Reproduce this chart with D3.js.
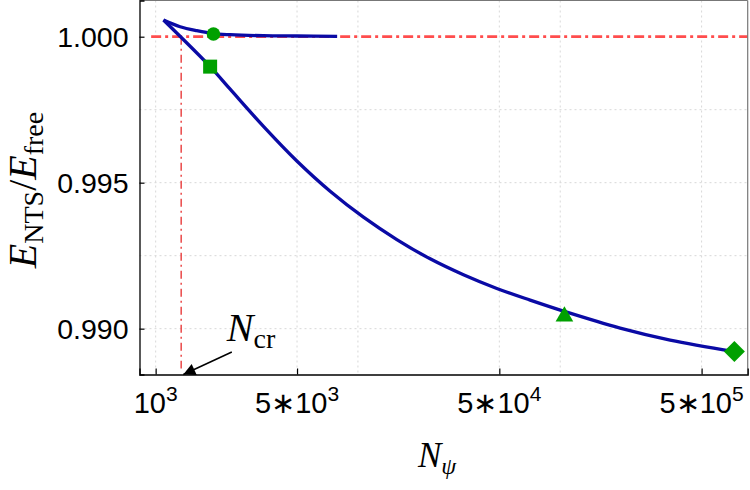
<!DOCTYPE html>
<html>
<head>
<meta charset="utf-8">
<script src="https://cdn.jsdelivr.net/npm/d3@7"></script>
<style>
  body { margin: 0; background: #fff; }
  svg { display: block; }
</style>
</head>
<body>
<div id="chart"></div>
<script>
// upper branch (from the cusp, approaching 1 from above)
const upperN = [1093, 1321, 1598, 1931, 2335, 3411, 4989, 7893];
const upperE = [1.000571, 1.000342, 1.000205, 1.000105, 1.000068, 1.000034, 1.000024, 1.000014];

// lower branch
const lowerN = [1093, 1859, 2335, 3411, 4989, 7288, 10647, 15571, 22750, 33230, 48600, 71010, 104900, 197800, 349400, 726200];
const lowerE = [1.000571, 0.998975, 0.998202, 0.996928, 0.995742, 0.994706, 0.993818, 0.993052, 0.992392, 0.991846, 0.991377, 0.990978, 0.990591, 0.990021, 0.989610, 0.989214];

// green markers
const markerN = [1931, 1859, 104900, 726200];
const markerE = [1.000092, 0.998975, 0.990420, 0.989214];
const markerShape = ["circle", "square", "triangle", "diamond"];

// axes
const xTicks = [1e3, 5e3, 5e4, 5e5];
const xTickMant = ["", "5\u221710", "5\u221710", "5\u221710"];
const xTickExp = ["3", "3", "4", "5"];
const yTicks = [0.990, 0.995, 1.000];
const xGrid = [1e3, 5e3, 1e4, 5e4, 1e5, 5e5];
const yGrid = [0.990, 0.9925, 0.995, 0.9975];

// reference lines + annotation
const refE = 1.0;
const refStartN = 950;
const Ncr = 1337;
const arrowFrom = [2380, 0.98920];
const arrowTo = [1370, 0.98843];
const labelAt = [2249, 0.989576];

const W = 750, H = 490;
const plotL = 139.5, plotR = 747.7, plotT = 0.5, plotB = 374.5;

const svg = d3.select("#chart").append("svg")
    .attr("width", W)
    .attr("height", H);

const x = d3.scaleLog()
    .domain([832, 845000])
    .range([plotL, plotR]);

const y = d3.scaleLinear()
    .domain([0.98843, 1.00124])
    .range([plotB, plotT]);

// grid
svg.append("g").selectAll("line")
  .data(xGrid)
  .join("line")
    .attr("x1", d => x(d)).attr("x2", d => x(d))
    .attr("y1", plotT).attr("y2", plotB)
    .attr("stroke", "#d8d8d8")
    .attr("stroke-width", 1)
    .attr("stroke-dasharray", "2,3");

svg.append("g").selectAll("line")
  .data(yGrid)
  .join("line")
    .attr("x1", plotL).attr("x2", plotR)
    .attr("y1", d => y(d)).attr("y2", d => y(d))
    .attr("stroke", "#d8d8d8")
    .attr("stroke-width", 1)
    .attr("stroke-dasharray", "2,3");

// red reference lines
svg.append("line")
    .attr("x1", x(refStartN)).attr("x2", plotR)
    .attr("y1", y(refE)).attr("y2", y(refE))
    .attr("stroke", "#ff4d4d")
    .attr("stroke-width", 2.8)
    .attr("stroke-dasharray", "10,4,3,4");

svg.append("line")
    .attr("x1", x(Ncr)).attr("x2", x(Ncr))
    .attr("y1", y(refE)).attr("y2", plotB - 6)
    .attr("stroke", "#e83c3c")
    .attr("stroke-width", 1.4)
    .attr("stroke-dasharray", "8,4,2,4");

// curves
const line = d3.line()
    .x(d => x(d[0]))
    .y(d => y(d[1]))
    .curve(d3.curveCatmullRom.alpha(0.5));

svg.append("path")
    .datum(upperN.map((n, i) => [n, upperE[i]]))
    .attr("d", line)
    .attr("fill", "none")
    .attr("stroke", "#0a0aa5")
    .attr("stroke-width", 3.3)
    .attr("stroke-linejoin", "round");

svg.append("path")
    .datum(lowerN.map((n, i) => [n, lowerE[i]]))
    .attr("d", line)
    .attr("fill", "none")
    .attr("stroke", "#0a0aa5")
    .attr("stroke-width", 3.3)
    .attr("stroke-linejoin", "round");

// markers
const symbolFor = {
  circle: d3.symbol(d3.symbolCircle, 145),
  square: d3.symbol(d3.symbolSquare, 196),
  triangle: d3.symbol(d3.symbolTriangle, 135),
  diamond: d3.symbol(d3.symbolSquare, 220)
};
svg.append("g").selectAll("path")
  .data(markerN.map((n, i) => ({n: n, e: markerE[i], s: markerShape[i]})))
  .join("path")
    .attr("d", d => symbolFor[d.s]())
    .attr("transform", d => `translate(${x(d.n)},${y(d.e)})` + (d.s === "diamond" ? " rotate(45)" : ""))
    .attr("fill", "#00a000");

// frame
svg.append("line").attr("x1", plotL).attr("x2", plotR).attr("y1", plotT).attr("y2", plotT)
    .attr("stroke", "#777").attr("stroke-width", 1.2);
svg.append("line").attr("x1", plotR).attr("x2", plotR).attr("y1", plotT).attr("y2", plotB)
    .attr("stroke", "#777").attr("stroke-width", 1.2);

// x axis (ticks inward)
const xAxis = svg.append("g")
    .attr("transform", `translate(0,${plotB})`)
    .call(d3.axisBottom(x).tickValues(xTicks).tickSize(-6).tickFormat(""));
xAxis.select(".domain").attr("stroke", "#000").attr("stroke-width", 1.3);
xAxis.selectAll(".tick line").attr("stroke", "#000").attr("stroke-width", 1.2);

const yAxis = svg.append("g")
    .attr("transform", `translate(${plotL},0)`)
    .call(d3.axisLeft(y).tickValues(yTicks).tickSize(-5).tickFormat(""));
yAxis.select(".domain").attr("stroke", "#000").attr("stroke-width", 1.3);
yAxis.selectAll(".tick line").attr("stroke", "#000").attr("stroke-width", 1.2);

// tick labels
const tickFont = "'Liberation Sans', Arial, sans-serif";
const xl = svg.append("g").selectAll("text")
  .data(xTicks)
  .join("text")
    .attr("x", d => x(d))
    .attr("y", plotB + 38)
    .attr("text-anchor", "middle")
    .attr("font-family", tickFont)
    .attr("font-size", 29)
    .attr("fill", "#000");
xl.append("tspan").text((d, i) => xTickMant[i] === "" ? "10" : xTickMant[i]);
xl.append("tspan")
    .attr("dy", -12)
    .attr("font-size", 21)
    .text((d, i) => xTickExp[i]);

svg.append("g").selectAll("text")
  .data(yTicks)
  .join("text")
    .attr("x", plotL - 11)
    .attr("y", d => y(d) + 10)
    .attr("text-anchor", "end")
    .attr("font-family", tickFont)
    .attr("font-size", 28.5)
    .attr("fill", "#000")
    .text(d => d3.format(".3f")(d));

// axis titles
const serif = "'Liberation Serif', 'Times New Roman', serif";
const xt = svg.append("text")
    .attr("x", 418)
    .attr("y", 467)
    .attr("font-family", serif)
    .attr("font-size", 35)
    .attr("fill", "#000");
xt.append("tspan").attr("font-style", "italic").text("N");
xt.append("tspan").attr("font-style", "italic").attr("font-size", 24).attr("dy", 7).text("\u03c8");

const yt = svg.append("text")
    .attr("transform", "translate(36,190) rotate(-90)")
    .attr("text-anchor", "middle")
    .attr("font-family", serif)
    .attr("font-size", 40)
    .attr("fill", "#000");
yt.append("tspan").attr("font-style", "italic").text("E");
yt.append("tspan").attr("font-size", 28).attr("dy", 7).text("NTS");
yt.append("tspan").attr("dy", -7).text("/");
yt.append("tspan").attr("font-style", "italic").text("E");
yt.append("tspan").attr("font-size", 28).attr("dy", 7).text("free");

// N_cr annotation
svg.append("defs").append("marker")
    .attr("id", "head")
    .attr("viewBox", "0 0 10 10")
    .attr("refX", 10).attr("refY", 5)
    .attr("markerWidth", 17).attr("markerHeight", 12)
    .attr("markerUnits", "userSpaceOnUse")
    .attr("orient", "auto")
  .append("path")
    .attr("d", "M0,0L10,5L0,10z")
    .attr("fill", "#000");

svg.append("line")
    .attr("x1", x(arrowFrom[0])).attr("y1", y(arrowFrom[1]))
    .attr("x2", x(arrowTo[0])).attr("y2", y(arrowTo[1]))
    .attr("stroke", "#000")
    .attr("stroke-width", 1.5)
    .attr("marker-end", "url(#head)");

const nl = svg.append("text")
    .attr("x", x(labelAt[0]))
    .attr("y", y(labelAt[1]))
    .attr("font-family", serif)
    .attr("font-size", 40)
    .attr("fill", "#000");
nl.append("tspan").attr("font-style", "italic").text("N");
nl.append("tspan").attr("font-size", 28).attr("dy", 7).text("cr");
</script>
</body>
</html>
